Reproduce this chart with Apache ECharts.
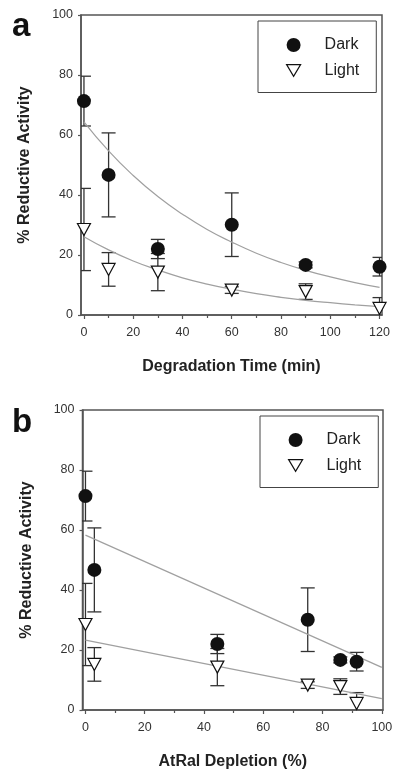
<!DOCTYPE html>
<html>
<head>
<meta charset="utf-8">
<script src="https://cdn.jsdelivr.net/npm/echarts@6/dist/echarts.min.js"></script>
<style>
html,body{margin:0;padding:0;background:#fff;}
#chart{width:400px;height:776px;}
</style>
</head>
<body>
<div id="chart"></div>
<script>
// ---- data ----
const timeMin = [0, 10, 30, 60, 90, 120];
const depletionPct = [0, 3, 44.5, 75, 86, 91.5];
const darkMean = [71.3, 46.7, 22.0, 30.1, 16.7, 16.1];
const darkErr = [8.3, 14.0, 3.2, 10.6, 1.0, 3.1];
const lightMean = [28.5, 15.2, 14.3, 8.3, 7.8, 2.2];
const lightErr = [13.7, 5.6, 6.2, 1.1, 2.6, 3.6];

// fitted curves (panel a)
const fitTimeA = [0, 10, 20, 30, 40, 50, 60, 70, 80, 90, 100, 110, 120];
const darkFitA = [64.4, 54.7, 46.5, 39.5, 33.6, 28.5, 24.3, 20.6, 17.5, 14.9, 12.7, 10.8, 9.2];
const lightFitA = [26.1, 21.7, 18.0, 15.0, 12.4, 10.3, 8.6, 7.1, 5.9, 4.9, 4.1, 3.4, 2.8];
// fitted lines (panel b)
const fitDeplB = [0, 100];
const darkFitB = [58.3, 14.2];
const lightFitB = [23.3, 3.8];

// tick labels
const xTicksA = [0, 20, 40, 60, 80, 100, 120];
const xMinorA = [10, 30, 50, 70, 90, 110];
const xTicksB = [0, 20, 40, 60, 80, 100];
const xMinorB = [10, 30, 50, 70, 90];

const FONT = "'Liberation Sans', Arial, sans-serif";
const AX = '#555';

function errData(xs, m, e) { return xs.map((x, i) => [x, m[i] - e[i], m[i] + e[i]]); }
function pairs(xs, ys) { return xs.map((x, i) => [x, ys[i]]); }

function renderErr(params, api) {
  const x = api.value(0), lo = api.value(1), hi = api.value(2);
  const pLo = api.coord([x, lo]), pHi = api.coord([x, hi]);
  const hw = 7;
  const st = { stroke: '#333', lineWidth: 1.3 };
  return {
    type: 'group', children: [
      { type: 'line', shape: { x1: pLo[0], y1: pLo[1], x2: pHi[0], y2: pHi[1] }, style: st },
      { type: 'line', shape: { x1: pHi[0] - hw, y1: pHi[1], x2: pHi[0] + hw, y2: pHi[1] }, style: st },
      { type: 'line', shape: { x1: pLo[0] - hw, y1: pLo[1], x2: pLo[0] + hw, y2: pLo[1] }, style: st }
    ]
  };
}

function mainX(grid, min, max, ticks, name) {
  return {
    type: 'value', gridIndex: grid, min: min, max: max, position: 'bottom',
    name: name, nameLocation: 'middle', nameGap: 44,
    nameTextStyle: { fontFamily: FONT, fontSize: 16, fontWeight: 'bold', color: '#222' },
    axisLine: { onZero: false, lineStyle: { color: AX, width: 1.5 } },
    axisTick: { show: true, inside: false, length: 4, customValues: ticks, lineStyle: { color: AX, width: 1.2 } },
    axisLabel: { customValues: ticks, margin: 11, fontFamily: FONT, fontSize: 12.5, color: '#333' },
    splitLine: { show: false }
  };
}
function minorX(grid, min, max, ticks) {
  return {
    type: 'value', gridIndex: grid, min: min, max: max, position: 'bottom',
    axisLine: { show: false, onZero: false },
    axisTick: { show: true, inside: false, length: 3, customValues: ticks, lineStyle: { color: AX, width: 1.2 } },
    axisLabel: { show: false },
    splitLine: { show: false }
  };
}
function yAx(grid) {
  return {
    type: 'value', gridIndex: grid, min: 0, max: 100, interval: 20,
    name: '% Reductive Activity', nameLocation: 'middle', nameGap: 48, nameRotate: 90,
    nameTextStyle: { fontFamily: FONT, fontSize: 16, fontWeight: 'bold', color: '#222' },
    axisLine: { show: true, onZero: false, lineStyle: { color: AX, width: 1.5 } },
    axisTick: { show: true, inside: false, length: 3, lineStyle: { color: AX, width: 1.2 } },
    axisLabel: { margin: 8, fontFamily: FONT, fontSize: 12.5, color: '#333' },
    splitLine: { show: false }
  };
}

function panelSeries(xi, yi, xs, fitXs, dFit, lFit, smooth) {
  return [
    { type: 'custom', name: 'errDark', xAxisIndex: xi, yAxisIndex: yi, renderItem: renderErr,
      encode: { x: 0, y: [1, 2] }, data: errData(xs, darkMean, darkErr), z: 2, silent: true, clip: true },
    { type: 'custom', name: 'errLight', xAxisIndex: xi, yAxisIndex: yi, renderItem: renderErr,
      encode: { x: 0, y: [1, 2] }, data: errData(xs, lightMean, lightErr), z: 2, silent: true, clip: true },
    { type: 'line', name: 'fitDark', xAxisIndex: xi, yAxisIndex: yi, data: pairs(fitXs, dFit), smooth: smooth,
      showSymbol: false, symbol: 'none', lineStyle: { color: '#a0a0a0', width: 1.2 }, z: 3, silent: true },
    { type: 'line', name: 'fitLight', xAxisIndex: xi, yAxisIndex: yi, data: pairs(fitXs, lFit), smooth: smooth,
      showSymbol: false, symbol: 'none', lineStyle: { color: '#a0a0a0', width: 1.2 }, z: 3, silent: true },
    { type: 'scatter', name: 'Dark', xAxisIndex: xi, yAxisIndex: yi, data: pairs(xs, darkMean),
      symbol: 'circle', symbolSize: 14, itemStyle: { color: '#111', opacity: 1 }, z: 5 },
    { type: 'scatter', name: 'Light', xAxisIndex: xi, yAxisIndex: yi, data: pairs(xs, lightMean),
      symbol: 'triangle', symbolRotate: 180, symbolSize: [13, 12],
      itemStyle: { color: '#fff', borderColor: '#111', borderWidth: 1.2, opacity: 1 }, z: 5 }
  ];
}

function legendAt(left, top) {
  return {
    orient: 'vertical', left: left, top: top, selectedMode: false,
    itemWidth: 14, itemHeight: 14, itemGap: 9.5,
    padding: [16, 17, 14, 28],
    borderColor: '#444', borderWidth: 1, backgroundColor: '#fff',
    textStyle: { fontFamily: FONT, fontSize: 16, color: '#222', padding: [0, 0, 0, 19] },
    data: [
      { name: 'Dark', icon: 'circle', itemStyle: { color: '#111' } },
      { name: 'Light', icon: 'path://M0,0L12,0L6,10Z', itemStyle: { color: '#fff', borderColor: '#111', borderWidth: 1.2 } }
    ]
  };
}

const chart = echarts.init(document.getElementById('chart'), null, { renderer: 'canvas' });
chart.setOption({
  animation: false,
  backgroundColor: '#fff',
  grid: [
    { left: 81, top: 15, width: 301, height: 300, show: true, borderColor: AX, borderWidth: 1.5, backgroundColor: 'transparent' },
    { left: 82.5, top: 410, width: 300.5, height: 300, show: true, borderColor: AX, borderWidth: 1.5, backgroundColor: 'transparent' }
  ],
  xAxis: [
    mainX(0, -1.2, 121, xTicksA, 'Degradation Time (min)'),
    minorX(0, -1.2, 121, xMinorA),
    mainX(1, -1, 100.4, xTicksB, 'AtRal Depletion (%)'),
    minorX(1, -1, 100.4, xMinorB)
  ],
  yAxis: [yAx(0), yAx(1)],
  legend: [legendAt(258, 21), legendAt(260, 416)],
  graphic: [
    { type: 'text', left: 12, top: 10, style: { text: 'a', font: "bold 33px 'Liberation Sans', Arial, sans-serif", fill: '#111' } },
    { type: 'text', left: 12, top: 406, style: { text: 'b', font: "bold 33px 'Liberation Sans', Arial, sans-serif", fill: '#111' } }
  ],
  series: [].concat(
    panelSeries(0, 0, timeMin, fitTimeA, darkFitA, lightFitA, true),
    panelSeries(2, 1, depletionPct, fitDeplB, darkFitB, lightFitB, false)
  )
});
</script>
</body>
</html>
